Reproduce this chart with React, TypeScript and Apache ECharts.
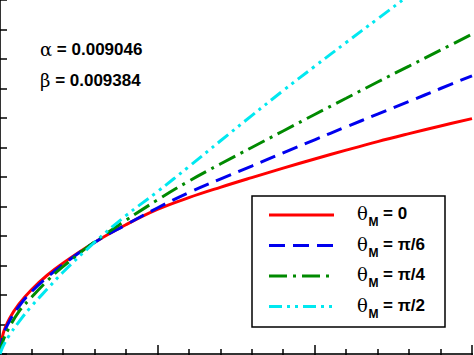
import React, { useEffect, useRef } from "react";
import * as echarts from "echarts";

const xs = [0, 0.1, 0.3, 0.6, 1, 1.5, 2, 3, 4, 5, 6, 7, 8, 9, 10, 11, 12, 13, 14, 15];
const red = [0, 0.69, 1.2, 1.69, 2.18, 2.67, 3.08, 3.78, 4.38, 4.9, 5.3, 5.65, 5.98, 6.3, 6.61, 6.91, 7.2, 7.47, 7.73, 7.98];
const blue = [0, 0.62, 1.11, 1.61, 2.11, 2.6, 3.03, 3.78, 4.38, 4.95, 5.47, 5.93, 6.37, 6.82, 7.26, 7.7, 8.13, 8.56, 9.0, 9.43];
const green = [0, 0.46, 0.91, 1.44, 1.92, 2.48, 2.96, 3.8, 4.53, 5.22, 5.86, 6.44, 7.0, 7.56, 8.12, 8.67, 9.22, 9.76, 10.3, 10.84];
const cyan = [0, 0.27, 0.64, 1.09, 1.62, 2.2, 2.77, 3.78, 4.69, 5.5, 6.35, 7.22, 8.08, 8.93, 9.75, 10.56, 11.36, 12.16, 12.95, 13.73];

const legendValues = ["0", "π/6", "π/4", "π/2"];
const params = ["α = ", "β = "];
const paramValues = ["0.009046", "0.009384"];

const colors = ["#ff0000", "#0000ee", "#008a00", "#00e8f0"];
const dashes: (string | number[])[] = ["solid", [16, 8], [18, 6, 3, 6], [13, 5, 3, 5, 3, 5]];
const seriesData = [red, blue, green, cyan];

export default function App() {
  const ref = useRef<HTMLDivElement>(null);
  useEffect(() => {
    if (!ref.current) return;
    const chart = echarts.init(ref.current, null, { renderer: "svg" });
    const pairs = (ys: number[]) => xs.map((x, i) => [x, ys[i]]);
    const axisLine = { show: true, lineStyle: { color: "#333", width: 2 } };
    const xAx = (position: "top" | "bottom") => ({
      type: "value" as const,
      position,
      min: 0,
      max: 15,
      interval: 5,
      axisLine,
      axisTick: { show: true, inside: true, length: 9, lineStyle: { color: "#000", width: 1.5 } },
      minorTick: { show: true, splitNumber: 5, length: 5, lineStyle: { color: "#000", width: 1.5 } },
      axisLabel: { show: false },
      splitLine: { show: false },
    });
    const yAx = (position: "left" | "right") => ({
      type: "value" as const,
      position,
      min: 0,
      max: 12,
      interval: 1,
      axisLine,
      axisTick: { show: true, inside: true, length: 7, lineStyle: { color: "#000", width: 1.5 } },
      axisLabel: { show: false },
      splitLine: { show: false },
    });
    const graphics: any[] = [];
    params.forEach((p, i) => {
      graphics.push({
        type: "text",
        x: 40,
        y: 49 + i * 31,
        style: {
          text: "{g|" + p.charAt(0) + "}{b|" + p.slice(1) + paramValues[i] + "}",
          verticalAlign: "middle",
          rich: {
            g: { font: "normal 18px 'DejaVu Serif'", fill: "#000" },
            b: { font: "bold 17px 'Liberation Sans'", fill: "#000" },
          },
        },
      });
    });
    graphics.push({
      type: "rect",
      shape: { x: 252, y: 196, width: 193, height: 131 },
      style: { fill: "#fff", stroke: "#000", lineWidth: 1.5 },
      z: 10,
    });
    legendValues.forEach((v, i) => {
      const ly = 215 + i * 30.5;
      graphics.push({
        type: "line",
        shape: { x1: 269, y1: ly, x2: 334, y2: ly },
        style: { stroke: colors[i], lineWidth: 3, lineDash: i === 0 ? null : dashes[i] },
        z: 11,
      });
      graphics.push({
        type: "text",
        x: 357,
        y: ly - 1.5,
        style: { text: "θ", font: "normal 18px 'DejaVu Serif'", fill: "#000", verticalAlign: "middle" },
        z: 11,
      });
      graphics.push({
        type: "text",
        x: 368.5,
        y: ly + 7,
        style: { text: "M", font: "bold 12px 'Liberation Sans'", fill: "#000", verticalAlign: "middle" },
        z: 11,
      });
      graphics.push({
        type: "text",
        x: 383,
        y: ly - 1.5,
        style: { text: "= " + v, font: "bold 17px 'Liberation Sans'", fill: "#000", verticalAlign: "middle" },
        z: 11,
      });
    });
    chart.setOption({
      animation: false,
      backgroundColor: "#fff",
      grid: { left: -1, top: -1, width: 473, height: 355, containLabel: false },
      xAxis: [xAx("bottom"), xAx("top")],
      yAxis: [yAx("left"), yAx("right")],
      series: seriesData.map((d, i) => ({
        type: "line",
        xAxisIndex: 0,
        yAxisIndex: 0,
        data: pairs(d),
        showSymbol: false,
        smooth: 0.4,
        clip: true,
        lineStyle: { color: colors[i], width: 3, type: dashes[i] },
        z: 3,
      })),
      graphic: graphics,
    });
    return () => chart.dispose();
  }, []);
  return (
    <div
      ref={ref}
      style={{ position: "fixed", left: 0, top: 0, width: 474, height: 355, background: "#fff" }}
    />
  );
}
